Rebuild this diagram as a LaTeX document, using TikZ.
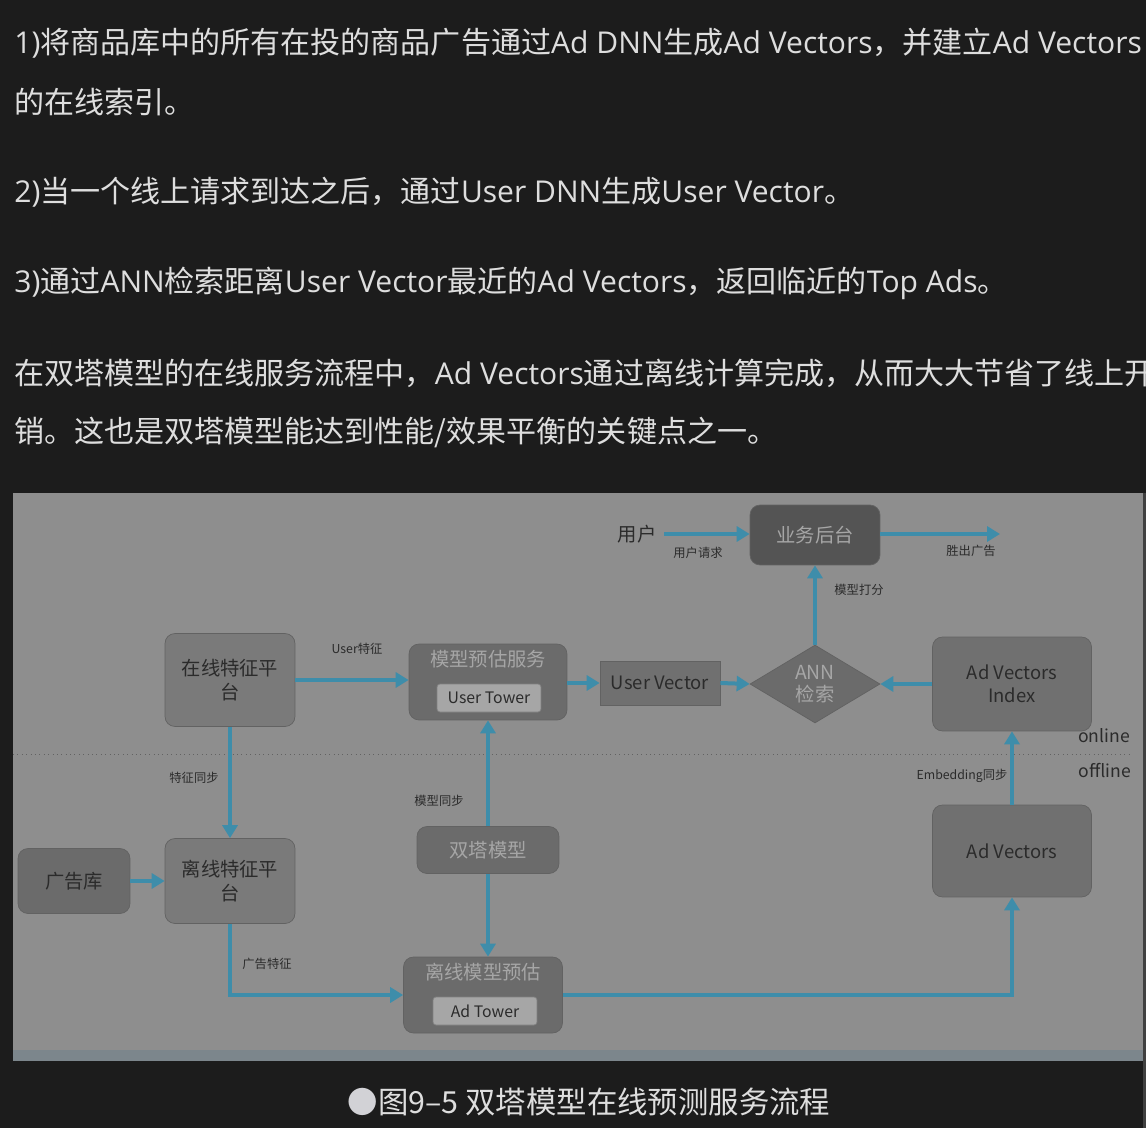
\documentclass[tikz,border=0pt]{standalone}
\usepackage{fontspec}
\setmainfont{Noto Sans CJK SC}
\newfontfamily\lat{Open Sans}
\usepackage{tikz}
\usetikzlibrary{arrows.meta,shapes.geometric}
\definecolor{cpage}{RGB}{28,28,28}
\definecolor{ctxt}{RGB}{222,222,222}
\definecolor{cdot}{RGB}{210,210,214}
\definecolor{cpanel}{RGB}{142,142,142}
\definecolor{cstrip}{RGB}{124,134,140}
\definecolor{cflow}{RGB}{62,141,170}
\definecolor{cdark}{RGB}{43,43,43}
\definecolor{clight}{RGB}{166,166,166}
\definecolor{cedge}{RGB}{98,98,98}

\begin{document}
\begin{tikzpicture}[x=0.02cm,y=-0.02cm,
  para/.style={text=ctxt,anchor=west,inner sep=0,font=\fontsize{17.1pt}{20pt}\selectfont},
  box/.style={draw=cedge,rounded corners=0.2cm,inner sep=0,align=center,text=cdark,
    font=\fontsize{11pt}{13.5pt}\selectfont},
  title/.style={inner sep=0,text=clight,font=\fontsize{11pt}{13pt}\selectfont},
  tower/.style={draw=cedge!80,fill=black!35,rounded corners=0.06cm,inner sep=0,text=cdark,
    minimum width=2.08cm,minimum height=0.56cm,font=\fontsize{9pt}{11pt}\selectfont},
  lbl/.style={inner sep=0,text=cdark,font=\fontsize{7pt}{8pt}\selectfont},
  flow/.style={-{Triangle[length=0.26cm,width=0.3cm]},draw=cflow,line width=0.08cm},
]
\useasboundingbox (0,0) rectangle (1146,1128);
\clip (0,0) rectangle (1146,1128);
\fill[cpage] (0,0) rectangle (1146,1128);

% text above the figure
\node[para] (p1) at (14,43) {{\lat 1)}将商品库中的所有在投的商品广告通过{\lat Ad DNN}生成{\lat Ad Vectors}，并建立{\lat Ad Vectors}};
\node[para] (p2) at (14,102) {的在线索引。};
\node[para] (p3) at (14,192) {{\lat 2)}当一个线上请求到达之后，通过{\lat User DNN}生成{\lat User Vector}。};
\node[para] (p4) at (14,283) {{\lat 3)}通过{\lat ANN}检索距离{\lat User Vector}最近的{\lat Ad Vectors}，返回临近的{\lat Top Ads}。};
\node[para] (p5) at (14,373) {在双塔模型的在线服务流程中，{\lat Ad Vectors}通过离线计算完成，从而大大节省了线上开};
\node[para] (p6) at (14,432) {销。这也是双塔模型能达到性能/效果平衡的关键点之一。};

% figure panel
\fill[cpanel] (13,493) rectangle (1143,1061);
\fill[cstrip] (13,1050) rectangle (1143,1061);
\fill[black!75] (1143,493) rectangle (1146,1128);
\draw[cedge,dotted,line width=0.5pt] (13,754) -- (1130,754);
\node[inner sep=0,text=cdark,font=\fontsize{10pt}{12pt}\selectfont] (on) at (1104,736) {online};
\node[inner sep=0,text=cdark,font=\fontsize{10pt}{12pt}\selectfont] (off) at (1105,771) {offline};

% online part
\node[inner sep=0.15cm,text=cdark,font=\fontsize{11pt}{13pt}\selectfont] (usr) at (637,534) {用户};
\node[box,fill=black!67,text=clight,minimum width=2.6cm,minimum height=1.2cm] (biz) at (815,535) {业务后台};
\coordinate (out) at (1000,534);
\node[box,fill=black!52,minimum width=2.6cm,minimum height=1.86cm] (onf) at (230,680) {在线特征平\\台};
\node[box,fill=black!58,minimum width=3.16cm,minimum height=1.52cm] (srv) at (488,682) {};
\node[title] (srvt) at (488,659) {模型预估服务};
\node[tower] (ut) at (489,698) {User Tower};
\node[box,rounded corners=0,fill=black!56,minimum width=2.4cm,minimum height=0.88cm,
  font=\fontsize{10.5pt}{12pt}\selectfont] (uv) at (660,683) {User Vector};
\node[diamond,draw=cedge,fill=black!58,inner sep=0,shape aspect=1.67,align=center,text=clight,
  minimum width=2.6cm,minimum height=1.56cm,font=\fontsize{11pt}{12.5pt}\selectfont] (ann) at (815,684) {ANN\\检索};
\node[box,fill=black!56,minimum width=3.18cm,minimum height=1.88cm,
  font=\fontsize{10.5pt}{13pt}\selectfont] (adi) at (1012,684) {Ad Vectors\\Index};

% offline part
\node[box,fill=black!58,minimum width=2.24cm,minimum height=1.3cm] (adlib) at (74,881) {广告库};
\node[box,fill=black!52,minimum width=2.6cm,minimum height=1.7cm] (offf) at (230,881) {离线特征平\\台};
\node[box,fill=black!58,text=clight,minimum width=2.84cm,minimum height=0.94cm] (twin) at (488,850) {双塔模型};
\node[box,fill=black!58,minimum width=3.18cm,minimum height=1.52cm] (opr) at (483,995) {};
\node[title] (oprt) at (483,972) {离线模型预估};
\node[tower] (at) at (485,1011) {Ad Tower};
\node[box,fill=black!56,minimum width=3.18cm,minimum height=1.84cm,
  font=\fontsize{10.5pt}{13pt}\selectfont] (adv) at (1012,851) {Ad Vectors};

% connectors
\draw[flow] (usr.east) -- (biz.west |- usr.east);
\draw[flow] (biz.east |- out) -- (out);
\draw[flow] (ann.north) -- (biz.south);
\draw[flow] (onf.east) -- (onf.east -| srv.west);
\draw[flow] (srv.east |- uv) -- (uv.west);
\draw[flow] (uv.east) -- (ann.west);
\draw[flow] (adi.west) -- (ann.east);
\draw[flow] (onf.south) -- (offf.north);
\draw[flow] (adlib.east) -- (offf.west);
\draw[flow] (twin.north) -- (srv.south);
\draw[flow] (twin.south) -- (twin.south |- opr.north);
\draw[flow] (offf.south) |- (opr.west);
\draw[flow] (opr.east) -| (adv.south);
\draw[flow] (adv.north) -- (adi.south);

% connector labels
\node[lbl] (lreq) at (698,553) {用户请求};
\node[lbl] (lwin) at (971,551) {胜出广告};
\node[lbl] (lscore) at (859,590) {模型打分};
\node[lbl] (lufeat) at (357,649) {User特征};
\node[lbl] (lfsync) at (194,778) {特征同步};
\node[lbl] (lmsync) at (439,801) {模型同步};
\node[lbl] (lafeat) at (267,964) {广告特征};
\node[lbl] (lesync) at (962,776) {Embedding同步};

% caption
\node[para,anchor=center,font=\fontsize{17.3pt}{20pt}\selectfont] (cap) at (589,1102) {{\color{cdot}●}图9–5 双塔模型在线预测服务流程};
\end{tikzpicture}
\end{document}
